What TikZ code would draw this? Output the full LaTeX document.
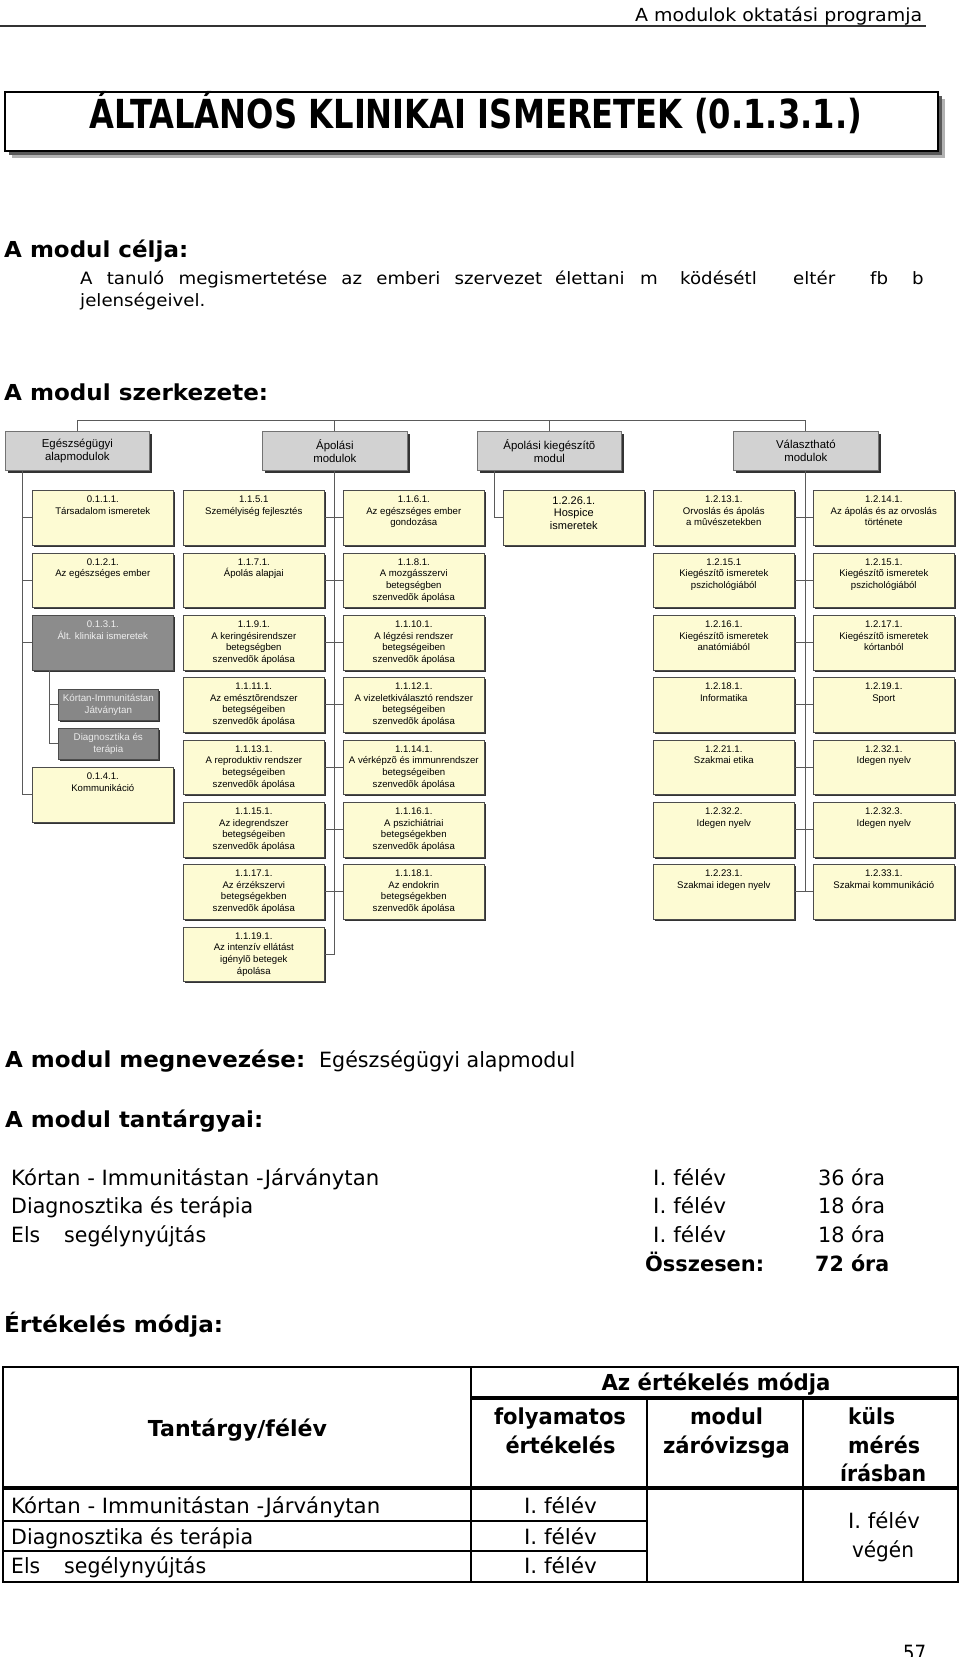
\documentclass[tikz,border=0pt]{standalone}
\usepackage{fontspec}
\usepackage{graphicx}
\setmainfont{DejaVu Sans}
\newfontfamily\arialf{Liberation Sans}
\usetikzlibrary{calc}
\definecolor{ylw}{HTML}{FDFBD3}
\definecolor{hgray}{HTML}{D2D2D2}
\definecolor{dgray}{HTML}{8C8C8C}
\definecolor{sgray}{HTML}{878787}
\definecolor{lnk}{HTML}{5A5A5A}
\newcommand{\fw}[2]{\resizebox{#1pt}{\height}{#2}}
\tikzset{
  conn/.style={draw=lnk, line width=0.9pt},
  ybx/.style={draw=black!70, line width=0.6pt, fill=ylw, minimum width=141pt, minimum height=54.5pt, inner sep=0pt, anchor=north west},
  gbx/.style={draw=black!70, line width=0.6pt, fill=dgray, minimum width=141pt, minimum height=54.5pt, inner sep=0pt, anchor=north west},
  sbx/.style={draw=black!70, line width=0.6pt, fill=sgray, minimum width=100pt, minimum height=31pt, inner sep=0pt, anchor=north west, text=black!8, align=center, font=\arialf\fontsize{9.8}{12.4}\selectfont},
  hbx/.style={draw=black!55, line width=0.7pt, fill=hgray, minimum width=144pt, minimum height=39pt, inner sep=0pt, anchor=north west, align=center, font=\arialf\fontsize{11.4}{13}\selectfont},
  ytx/.style={anchor=base, inner sep=0pt, font=\arialf\fontsize{9.6}{11.7}\selectfont},
  hd/.style={anchor=base west, inner sep=0pt, font=\fontsize{22}{26}\selectfont\bfseries},
  tx/.style={anchor=base west, inner sep=0pt, font=\fontsize{21}{25}\selectfont},
  txc/.style={anchor=base, inner sep=0pt, font=\fontsize{21}{25}\selectfont},
  ths/.style={anchor=base, inner sep=0pt, font=\fontsize{22}{26}\selectfont\bfseries},
  thw/.style={anchor=base west, inner sep=0pt, font=\fontsize{22}{26}\selectfont\bfseries},
  bw/.style={anchor=base west, inner sep=0pt, font=\fontsize{17}{20}\selectfont},
}
% yellow box: name, x, ytop, lines
\newcommand{\yb}[4]{%
  \fill[black!80] (#2+2.2,#3+2.2) rectangle ++(141,54.5);
  \node[ybx] (#1) at (#2,#3) {};
  \node[ytx] (#1t) at ($(#1.north)+(0,12.5)$) {\begin{tabular}[t]{@{}c@{}}#4\end{tabular}};
}
\newcommand{\hb}[5]{%
  \fill[black!80] (#2+3,#3+3) rectangle ++(#4,39);
  \node[hbx, minimum width=#4pt] (#1) at (#2,#3) {#5};
}
\newcommand{\subbx}[4]{%
  \fill[black!80] (#2+2.2,#3+2.2) rectangle ++(100,31);
  \node[sbx] (#1) at (#2,#3) {#4};
}
\begin{document}
\begin{tikzpicture}[x=1pt,y=-1pt]
\useasboundingbox (0,0) rectangle (960,1657);
\fill[white] (0,0) rectangle (960,1657);

% page header
\node[anchor=base west, inner sep=0pt, font=\fontsize{18}{20}\selectfont] (hdr) at (635,21) {\fw{287}{A modulok oktatási programja}};
\coordinate (hl1) at (0,26);
\coordinate (hl2) at (926,26);
\draw[line width=1.3pt, black!80] (hl1) -- (hl2);

% title box
\fill[black!30] (12,99) rectangle (945,158);
\fill[black!65] (9,96) rectangle (942,155);
\node[draw=black, line width=1.5pt, fill=white, minimum width=933pt, minimum height=59pt, anchor=north west, inner sep=0pt] (title) at (4,91) {};
\node[anchor=base, inner sep=0pt, font=\fontsize{40}{48}\selectfont\bfseries] (titletext) at (476,128) {\fw{772}{ÁLTALÁNOS KLINIKAI ISMERETEK (0.1.3.1.)}};

% A modul célja
\node[hd] (celja) at (4,257) {\fw{184}{A modul célja:}};
\node[bw] (w1) at (80,284) {\scalebox{1.07}[1]{\makebox[431.8pt][s]{A tanuló megismertetése az emberi szervezet}}};
\foreach \x/\w [count=\i from 2] in {555/élettani, 640/m, 680/ködésétl, 793/eltér, 870/fb, 912/b}
  \node[bw] (w\i) at (\x,284) {\scalebox{1.07}[1]{\w}};
\node[bw] (w8) at (80,306) {\scalebox{1.07}[1]{jelenségeivel.}};

% A modul szerkezete
\node[hd] (szerk) at (4,400) {\fw{264}{A modul szerkezete:}};

% header boxes
\hb{hE}{5}{431}{144}{Egészségügyi\\alapmodulok}
\hb{hA}{262}{431}{145}{Ápolási\\modulok}
\hb{hK}{477}{431}{144}{Ápolási kiegészítõ\\modul}
\hb{hV}{733}{431}{145}{Választható\\modulok}

% column 1
\yb{c1r1}{32}{490}{0.1.1.1.\\Társadalom ismeretek}
\yb{c1r2}{32}{552.5}{0.1.2.1.\\Az egészséges ember}
\fill[black!80] (34.2,617.2) rectangle ++(141,54.5);
\node[gbx] (c1r3) at (32,615) {};
\node[ytx, text=black!6] (c1r3t) at ($(c1r3.north)+(0,12.5)$) {\begin{tabular}[t]{@{}c@{}}0.1.3.1.\\Ált. klinikai ismeretek\end{tabular}};
\subbx{s1}{58}{689}{Kórtan-Immunitástan\\Játványtan}
\subbx{s2}{58}{728}{Diagnosztika és\\terápia}
\yb{c1r4}{32}{767}{0.1.4.1.\\Kommunikáció}

% columns 2 and 3
\yb{c2r1}{183}{490}{1.1.5.1\\Személyiség fejlesztés}
\yb{c3r1}{343}{490}{1.1.6.1.\\Az egészséges ember\\gondozása}
\yb{c2r2}{183}{552.5}{1.1.7.1.\\Ápolás alapjai}
\yb{c3r2}{343}{552.5}{1.1.8.1.\\A mozgásszervi\\betegségben\\szenvedõk ápolása}
\yb{c2r3}{183}{615}{1.1.9.1.\\A keringésirendszer\\betegségben\\szenvedõk ápolása}
\yb{c3r3}{343}{615}{1.1.10.1.\\A légzési rendszer\\betegségeiben\\szenvedõk ápolása}
\yb{c2r4}{183}{677}{1.1.11.1.\\Az emésztõrendszer\\betegségeiben\\szenvedõk ápolása}
\yb{c3r4}{343}{677}{1.1.12.1.\\A vizeletkiválasztó rendszer\\betegségeiben\\szenvedõk ápolása}
\yb{c2r5}{183}{739.5}{1.1.13.1.\\A reproduktiv rendszer\\betegségeiben\\szenvedõk ápolása}
\yb{c3r5}{343}{739.5}{1.1.14.1.\\A vérképzõ és immunrendszer\\betegségeiben\\szenvedõk ápolása}
\yb{c2r6}{183}{802}{1.1.15.1.\\Az idegrendszer\\betegségeiben\\szenvedõk ápolása}
\yb{c3r6}{343}{802}{1.1.16.1.\\A pszichiátriai\\betegségekben\\szenvedõk ápolása}
\yb{c2r7}{183}{864}{1.1.17.1.\\Az érzékszervi\\betegségekben\\szenvedõk ápolása}
\yb{c3r7}{343}{864}{1.1.18.1.\\Az endokrin\\betegségekben\\szenvedõk ápolása}
\yb{c2r8}{183}{926.5}{1.1.19.1.\\Az intenzív ellátást\\igénylõ betegek\\ápolása}

% column 4
\fill[black!80] (505.2,492.2) rectangle ++(141,54.5);
\node[ybx] (c4r1) at (503,490) {};
\node[ytx, font=\arialf\fontsize{11}{12.6}\selectfont] (c4r1t) at ($(c4r1.north)+(0,14)$) {\begin{tabular}[t]{@{}c@{}}1.2.26.1.\\Hospice\\ismeretek\end{tabular}};

% columns 5 and 6
\yb{c5r1}{653}{490}{1.2.13.1.\\Orvoslás és ápolás\\a mûvészetekben}
\yb{c6r1}{813}{490}{1.2.14.1.\\Az ápolás és az orvoslás\\története}
\yb{c5r2}{653}{552.5}{1.2.15.1\\Kiegészítõ ismeretek\\pszichológiából}
\yb{c6r2}{813}{552.5}{1.2.15.1.\\Kiegészítõ ismeretek\\pszichológiából}
\yb{c5r3}{653}{615}{1.2.16.1.\\Kiegészítõ ismeretek\\anatómiából}
\yb{c6r3}{813}{615}{1.2.17.1.\\Kiegészítõ ismeretek\\kórtanból}
\yb{c5r4}{653}{677}{1.2.18.1.\\Informatika}
\yb{c6r4}{813}{677}{1.2.19.1.\\Sport}
\yb{c5r5}{653}{739.5}{1.2.21.1.\\Szakmai etika}
\yb{c6r5}{813}{739.5}{1.2.32.1.\\Idegen nyelv}
\yb{c5r6}{653}{802}{1.2.32.2.\\Idegen nyelv}
\yb{c6r6}{813}{802}{1.2.32.3.\\Idegen nyelv}
\yb{c5r7}{653}{864}{1.2.23.1.\\Szakmai idegen nyelv}
\yb{c6r7}{813}{864}{1.2.33.1.\\Szakmai kommunikáció}

% connectors
\coordinate (ty) at (0,420);
\coordinate (vL) at (22,0);
\coordinate (vS) at (49,0);
\coordinate (vK) at (494,0);
\draw[conn] (hE.north) -- (hE.north |- ty) -- (hV.north |- ty) -- (hV.north);
\draw[conn] (hA.north) -- (hA.north |- ty);
\draw[conn] (hK.north) -- (hK.north |- ty);
\draw[conn] (hE.south -| vL) -- (vL |- c1r4.west) -- (c1r4.west);
\foreach \n in {c1r1,c1r2,c1r3} \draw[conn] (vL |- \n.west) -- (\n.west);
\draw[conn] (c1r3.south -| vS) -- (vS |- s2.west) -- (s2.west);
\draw[conn] (vS |- s1.west) -- (s1.west);
\draw[conn] (hA.south) -- (hA.south |- c2r8.east) -- (c2r8.east);
\foreach \r in {1,...,7} \draw[conn] (c2r\r.east) -- (c3r\r.west);
\draw[conn] (hK.south -| vK) -- (vK |- c4r1.west) -- (c4r1.west);
\draw[conn] (hV.south) -- (hV.south |- c5r7.east);
\foreach \r in {1,...,7} \draw[conn] (c5r\r.east) -- (c6r\r.west);

% module name and subjects
\node[hd] (megn) at (5,1067) {\fw{300}{A modul megnevezése:}};
\node[tx] (megnv) at (319,1067) {\fw{256}{Egészségügyi alapmodul}};
\node[hd] (tant) at (5,1127) {\fw{258}{A modul tantárgyai:}};
\node[tx] (l1) at (11,1185) {\fw{368}{Kórtan - Immunitástan -Járványtan}};
\node[tx] (l2) at (11,1213) {\fw{242}{Diagnosztika és terápia}};
\node[tx] (l3a) at (11,1242) {\fw{29}{Els}};
\node[tx] (l3b) at (64,1242) {\fw{142}{segélynyújtás}};
\node[tx] (f1) at (653,1185) {\fw{73}{I. félév}};
\node[tx] (f2) at (653,1213) {\fw{73}{I. félév}};
\node[tx] (f3) at (653,1242) {\fw{73}{I. félév}};
\node[tx] (o1) at (818,1185) {\fw{67}{36 óra}};
\node[tx] (o2) at (818,1213) {\fw{67}{18 óra}};
\node[tx] (o3) at (818,1242) {\fw{67}{18 óra}};
\node[tx, font=\fontsize{21}{25}\selectfont\bfseries] (ossz) at (645,1271) {\fw{119}{Összesen:}};
\node[tx, font=\fontsize{21}{25}\selectfont\bfseries] (ossz2) at (815,1271) {\fw{74}{72 óra}};

% evaluation
\node[hd] (ert) at (4,1332) {\fw{219}{Értékelés módja:}};
\draw[line width=1.5pt] (3,1367) rectangle (958,1582);
\draw[line width=1.2pt] (471,1367) -- (471,1582);
\draw[line width=1.2pt] (647,1398) -- (647,1582);
\draw[line width=1.2pt] (803,1398) -- (803,1582);
\draw[line width=1.2pt] (3,1521) -- (647,1521);
\draw[line width=1.2pt] (3,1551) -- (647,1551);
\draw[line width=3.5pt] (471,1398) -- (958,1398);
\draw[line width=3.5pt] (3,1488) -- (958,1488);
\node[ths] (tt) at (237.5,1436) {\fw{179}{Tantárgy/félév}};
\node[ths] (tam) at (716,1390) {\fw{229}{Az értékelés módja}};
\node[ths] (tf1) at (560,1424) {\fw{132}{folyamatos}};
\node[ths] (tf2) at (560.5,1453) {\fw{110}{értékelés}};
\node[ths] (tm1) at (726.5,1424) {\fw{73}{modul}};
\node[ths] (tm2) at (726.5,1453) {\fw{127}{záróvizsga}};
\node[thw] (tk1) at (848,1424) {\fw{47}{küls}};
\node[thw] (tk2) at (848,1453) {\fw{72}{mérés}};
\node[thw] (tk3) at (840,1481) {\fw{86}{írásban}};
\node[tx] (r1) at (11,1513) {\fw{369}{Kórtan - Immunitástan -Járványtan}};
\node[tx] (r2) at (11,1544) {\fw{242}{Diagnosztika és terápia}};
\node[tx] (r3a) at (11,1573) {\fw{29}{Els}};
\node[tx] (r3b) at (64,1573) {\fw{142}{segélynyújtás}};
\node[txc] (rf1) at (560.5,1513) {\fw{73}{I. félév}};
\node[txc] (rf2) at (560.5,1544) {\fw{73}{I. félév}};
\node[txc] (rf3) at (560.5,1573) {\fw{73}{I. félév}};
\node[txc] (rk1) at (884,1528) {\fw{72}{I. félév}};
\node[txc] (rk2) at (883,1557) {\fw{62}{végén}};
\node[tx] (pg) at (903,1660) {\fw{23}{57}};
\end{tikzpicture}
\end{document}
